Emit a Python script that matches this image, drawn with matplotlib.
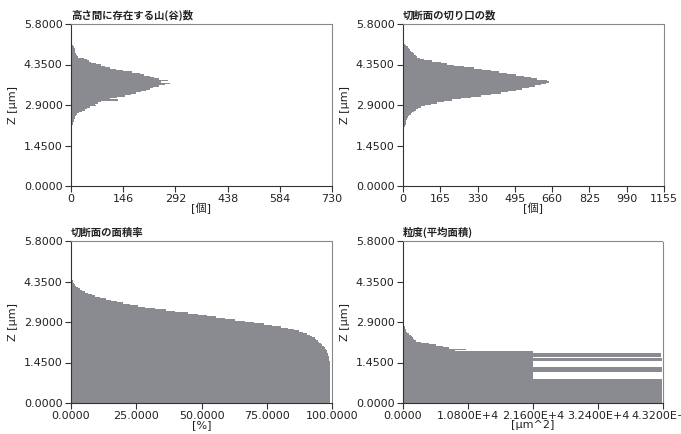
import numpy as np
import matplotlib
matplotlib.use("Agg")
import matplotlib.pyplot as plt
from matplotlib.ticker import FixedLocator

# ---------------- data ----------------
BIN = 0.05  # bin height in Z [um]

# Panel 1: number of peaks (valleys) existing between heights
peaks_z0 = 1.80
peaks_counts = [1, 1, 1, 2, 2, 3, 3, 4, 5, 6, 7, 8, 10, 12, 15, 18, 22, 30, 38, 45,
                52, 71, 67, 75, 85, 131, 108, 130, 150, 168, 183, 197, 211, 220, 230,
                245, 262, 277, 252, 272, 245, 232, 220, 205, 192, 170, 145, 125, 108,
                95, 85, 70, 57, 50, 45, 35, 20, 17, 15, 12, 10, 10, 10, 7, 5, 4, 3]

# Panel 2: number of cut openings of the cross section
cuts_z0 = 1.75
cuts_counts = [1, 1, 2, 2, 3, 4, 5, 7, 9, 12, 13, 15, 17, 19, 23, 27, 34, 41, 48, 56,
               66, 78, 98, 122, 150, 181, 218, 255, 300, 343, 388, 432, 465, 498, 528,
               557, 583, 609, 631, 646, 638, 594, 565, 535, 500, 462, 425, 388, 350,
               314, 270, 225, 195, 166, 130, 93, 75, 63, 56, 49, 43, 37, 32, 27, 20,
               13, 8, 5, 3, 2, 1, 1]

# Panel 3: area ratio of the cross section [%]
area_z0 = 0.0
area_pct = [99.1] * 30 + [
    99.0, 98.9, 98.8, 98.7, 98.6, 98.4, 98.2, 97.9, 97.6, 97.2, 96.8, 96.3, 95.8,
    95.2, 94.6, 94.0, 93.3, 92.5, 91.5, 90.5, 89.0, 87.5, 85.5, 83.0, 80.5, 77.0,
    74.0, 70.0, 66.5, 63.0, 59.0, 55.5, 52.0, 48.5, 45.0, 40.0, 36.5, 32.0, 28.5,
    25.5, 22.5, 20.0, 17.5, 15.5, 13.5, 11.0, 9.3, 7.9, 6.4, 5.2, 4.2, 3.4, 2.7,
    2.0, 1.5, 1.2, 0.9, 0.7, 0.5, 0.5, 0.4, 0.4, 0.3, 0.3, 0.2]

# Panel 4: grain size (mean area) [um^2]
grain_z0 = 0.0
grain_area = [43000] * 17 + [21600] * 5 + [43100] * 4 + [21600] * 4 + [43100] * 2 + \
             [21600] * 1 + [42800] * 3 + [21600] * 1 + [
    8600, 10500, 7600, 6600, 5500, 4400, 3000, 2100, 1900, 1700, 1500, 1300, 1000,
    700, 550, 450, 380, 300, 200, 120, 60, 20]

titles = ["高さ間に存在する山(谷)数", "切断面の切り口の数", "切断面の面積率", "粒度(平均面積)"]
xlabels = ["[個]", "[個]", "[%]", "[µm^2]"]
ylabel = "Z [µm]"
yticks = [0.0, 1.45, 2.9, 4.35, 5.8]
xticks_list = [
    [0, 146, 292, 438, 584, 730],
    [0, 165, 330, 495, 660, 825, 990, 1155],
    [0, 25, 50, 75, 100],
    [0, 10800, 21600, 32400, 43200],
]
xtick_labels = [
    ["0", "146", "292", "438", "584", "730"],
    ["0", "165", "330", "495", "660", "825", "990", "1155"],
    ["0.0000", "25.0000", "50.0000", "75.0000", "100.0000"],
    ["0.0000", "1.0800E+4", "2.1600E+4", "3.2400E+4", "4.3200E+4"],
]

series = [(peaks_z0, peaks_counts), (cuts_z0, cuts_counts),
          (area_z0, area_pct), (grain_z0, grain_area)]

# ---------------- figure ----------------
W, H = 681, 434
fig = plt.figure(figsize=(W / 100, H / 100), dpi=100)
fig.patch.set_facecolor("white")

# axes rectangles in pixels: left, top, right, bottom
rects = [(71, 24, 332, 186), (403, 24, 664, 186),
         (71, 241, 332, 403), (403, 241, 663, 403)]

bar_color = "#8a8a91"
cjk = ["DejaVu Sans", "Noto Sans CJK JP"]
cjk_title = ["Noto Sans CJK JP", "DejaVu Sans"]

for i, (l, t, r, b) in enumerate(rects):
    ax = fig.add_axes([l / W, 1 - b / H, (r - l) / W, (b - t) / H])
    z0, vals = series[i]
    vals = np.asarray(vals, dtype=float)
    edges = z0 + BIN * np.arange(len(vals) + 1)
    ax.stairs(vals, edges, orientation="horizontal", fill=True,
              color=bar_color, linewidth=0)
    ax.set_ylim(0, 5.8)
    ax.set_xlim(xticks_list[i][0], xticks_list[i][-1])
    ax.yaxis.set_major_locator(FixedLocator(yticks))
    ax.set_yticklabels([f"{v:.4f}" for v in yticks])
    ax.xaxis.set_major_locator(FixedLocator(xticks_list[i]))
    ax.set_xticklabels(xtick_labels[i])
    ax.tick_params(axis="both", labelsize=8, length=4, width=0.8,
                   color="#333333", labelcolor="#222222", pad=2)
    for s in ("top", "right"):
        ax.spines[s].set_linestyle((0, (1, 1)))
        ax.spines[s].set_color("#888888")
        ax.spines[s].set_linewidth(0.8)
    for s in ("left", "bottom"):
        ax.spines[s].set_color("#333333")
        ax.spines[s].set_linewidth(0.8)
    ax.set_title(titles[i], loc="left", pad=4, fontsize=7.5,
                 fontweight="bold", family=cjk_title, color="#222222")
    ax.set_xlabel(xlabels[i], fontsize=8, family=cjk, labelpad=-1, color="#222222")
    ax.set_ylabel(ylabel, fontsize=8, labelpad=4, color="#222222")

fig.savefig("out.png", dpi=100, facecolor="white")
